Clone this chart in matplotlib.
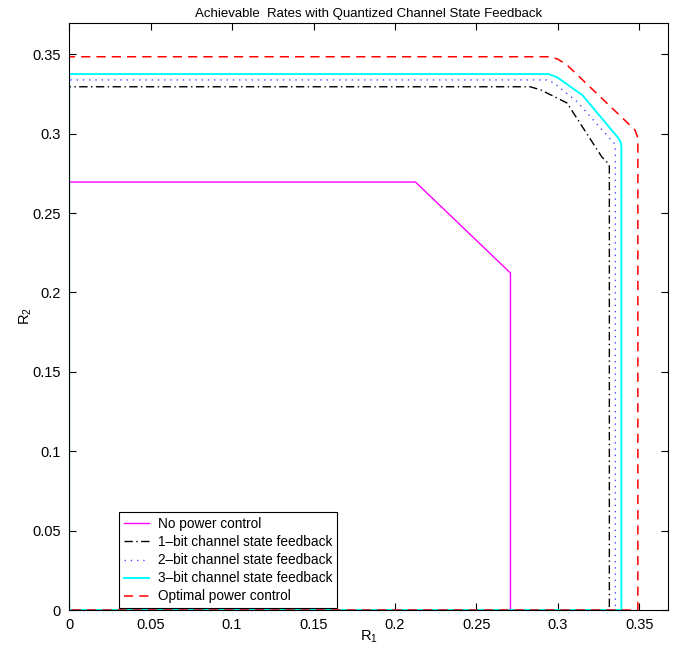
import numpy as np
import matplotlib
matplotlib.use('Agg')
import matplotlib.pyplot as plt

plt.rcParams['font.family'] = ['Liberation Sans', 'DejaVu Sans']
plt.rcParams['mathtext.default'] = 'regular'
plt.rcParams['font.size'] = 9

# corner points of each rate region (upper right boundary)
r1_nopc = [0.0, 0.2126, 0.2709, 0.2709]
r2_nopc = [0.2695, 0.2695, 0.2122, 0.0]

r1_1bit = [0.0, 0.283, 0.2895, 0.3056, 0.327, 0.3306, 0.3316, 0.3316]
r2_1bit = [0.3295, 0.3295, 0.3275, 0.3193, 0.2853, 0.2815, 0.2795, 0.0]

r1_2bit = [0.0, 0.293, 0.2975, 0.312, 0.331, 0.3345, 0.3353, 0.3353]
r2_2bit = [0.3338, 0.3338, 0.332, 0.3199, 0.2979, 0.294, 0.2905, 0.0]

r1_3bit = [0.0, 0.2942, 0.2995, 0.315, 0.3371, 0.3386, 0.339, 0.339]
r2_3bit = [0.3375, 0.3375, 0.3355, 0.3243, 0.2972, 0.2945, 0.2915, 0.0]

r1_opt = [0.0, 0.2952, 0.300, 0.3056, 0.3473, 0.3487, 0.3491, 0.3491]
r2_opt = [0.3484, 0.3484, 0.3469, 0.3432, 0.3023, 0.2985, 0.2947, 0.0]

labels = ['No power control', '1\u2013bit channel state feedback',
          '2\u2013bit channel state feedback', '3\u2013bit channel state feedback',
          'Optimal power control']


def closed(xs, ys):
    # region boundary runs along both axes back to the origin
    return [0.0] + xs + [0.0], [0.0] + ys + [0.0]


fig = plt.figure(figsize=(6.78, 6.55), dpi=100)
ax = fig.add_axes([0.102, 0.0687, 0.883, 0.8963])

x, y = closed(r1_nopc, r2_nopc)
ax.plot(x, y, color='#ff00ff', lw=1.0, label=labels[0])
x, y = closed(r1_1bit, r2_1bit)
ax.plot(x, y, color='black', lw=1.0, dashes=(6, 2.5, 1, 2.5), label=labels[1])
x, y = closed(r1_2bit, r2_2bit)
ax.plot(x, y, color='#4a4aff', lw=1.0, dashes=(1, 3.5), label=labels[2])
x, y = closed(r1_3bit, r2_3bit)
ax.plot(x, y, color='#00ffff', lw=1.4, label=labels[3])
x, y = closed(r1_opt, r2_opt)
ax.plot(x, y, color='#ff0000', lw=1.1, dashes=(6, 4), label=labels[4])

ax.set_xlim(0, 0.3675)
ax.set_ylim(0, 0.3697)
ax.set_xticks(np.arange(0, 0.351, 0.05))
ax.set_yticks(np.arange(0, 0.351, 0.05))
ax.set_xticklabels(['0', '0.05', '0.1', '0.15', '0.2', '0.25', '0.3', '0.35'])
ax.set_yticklabels(['0', '0.05', '0.1', '0.15', '0.2', '0.25', '0.3', '0.35'])
ax.tick_params(direction='in', top=True, right=True, length=5, width=0.8, labelsize=10.5, pad=6)
for sp in ax.spines.values():
    sp.set_linewidth(0.8)

ax.set_xlabel('R$_1$', fontsize=10.5, labelpad=-3)
ax.set_ylabel('R$_2$', fontsize=10.5, labelpad=-1)
ax.set_title('Achievable  Rates with Quantized Channel State Feedback', fontsize=9.5, pad=4)

leg = ax.legend(loc='lower left', bbox_to_anchor=(0.083, 0.003), borderaxespad=0,
                fontsize=9.8, handlelength=1.9, handletextpad=0.6, labelspacing=0.3,
                fancybox=False, framealpha=1, borderpad=0.35)
leg.get_frame().set_edgecolor('black')
leg.get_frame().set_linewidth(0.8)

fig.savefig('out.png', dpi=100)
